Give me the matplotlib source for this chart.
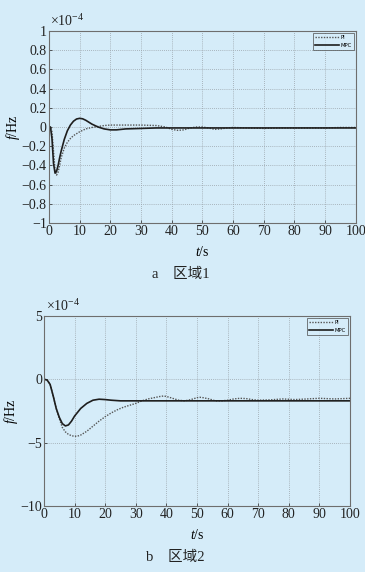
import matplotlib
matplotlib.use("Agg")
import matplotlib.pyplot as plt
from matplotlib.ticker import FuncFormatter

plt.rcParams["mathtext.fontset"] = "custom"
plt.rcParams["mathtext.rm"] = "Liberation Serif"
plt.rcParams["mathtext.it"] = "Liberation Serif:italic"
plt.rcParams["mathtext.bf"] = "Liberation Serif:bold"

# ---- data (units of 1e-4 Hz) ----
t_mpc1 = [0, 0.5, 1, 1.5, 2, 2.5, 3, 3.5, 4, 4.5, 5, 6, 7, 8, 9, 10, 11, 12, 13, 14, 15, 16, 18, 20, 22, 25, 30, 35, 40, 45, 50, 55, 60, 70, 80, 90, 100]
f_mpc1 = [0, 0, -0.12, -0.38, -0.48, -0.46, -0.4, -0.32, -0.25, -0.19, -0.13, -0.04, 0.02, 0.06, 0.083, 0.09, 0.085, 0.07, 0.05, 0.03, 0.015, 0.0, -0.02, -0.03, -0.03, -0.02, -0.015, -0.01, -0.01, -0.01, -0.01, -0.01, -0.01, -0.01, -0.01, -0.01, -0.01]

t_pi1 = [0, 0.5, 1, 1.5, 2, 2.5, 3, 3.5, 4, 5, 6, 7, 8, 10, 12, 14, 16, 18, 20, 25, 30, 35, 38, 40, 42, 44, 46, 48, 50, 52, 54, 56, 58, 60, 65, 70, 75, 80, 85, 90, 95, 100]
f_pi1 = [0, 0, -0.05, -0.25, -0.45, -0.5, -0.47, -0.4, -0.32, -0.22, -0.16, -0.12, -0.09, -0.05, -0.02, -0.005, 0.005, 0.015, 0.02, 0.02, 0.02, 0.015, 0.0, -0.025, -0.035, -0.03, -0.01, 0.0, 0.0, -0.01, -0.025, -0.02, -0.01, -0.005, -0.01, -0.015, -0.01, -0.01, -0.01, -0.01, -0.005, -0.005]

t_mpc2 = [0, 1, 2, 3, 4, 5, 6, 7, 8, 9, 10, 12, 14, 16, 18, 20, 22, 25, 30, 40, 50, 60, 70, 80, 90, 100]
f_mpc2 = [0, -0.05, -0.4, -1.3, -2.3, -3.0, -3.5, -3.68, -3.6, -3.3, -2.9, -2.3, -1.9, -1.65, -1.57, -1.6, -1.65, -1.7, -1.7, -1.7, -1.7, -1.7, -1.7, -1.7, -1.7, -1.7]

t_pi2 = [0, 1, 2, 3, 4, 5, 6, 7, 8, 9, 10, 11, 12, 14, 16, 18, 20, 22, 24, 26, 28, 30, 32, 34, 36, 38, 39, 40, 42, 44, 46, 48, 50, 51, 52, 54, 56, 58, 60, 62, 64, 66, 68, 70, 74, 78, 82, 86, 90, 95, 100]
f_pi2 = [0, -0.05, -0.4, -1.3, -2.3, -3.1, -3.8, -4.15, -4.35, -4.45, -4.5, -4.48, -4.4, -4.1, -3.7, -3.3, -2.95, -2.65, -2.4, -2.2, -2.05, -1.9, -1.7, -1.55, -1.45, -1.35, -1.32, -1.35, -1.5, -1.65, -1.7, -1.6, -1.45, -1.42, -1.45, -1.55, -1.7, -1.7, -1.65, -1.55, -1.5, -1.52, -1.6, -1.65, -1.62, -1.55, -1.6, -1.55, -1.5, -1.55, -1.5]

xticks = list(range(0, 101, 10))
yticks1 = [-1, -0.8, -0.6, -0.4, -0.2, 0, 0.2, 0.4, 0.6, 0.8, 1]
yticks2 = [-10, -5, 0, 5]
captions = ["a\u2003区域1", "b\u2003区域2"]

BG = "#d5ecf9"
serif = ["Liberation Serif", "Noto Sans CJK SC"]

def fmt(v, pos):
    s = ("%g" % v)
    return s.replace("-", "\u2212")

fig = plt.figure(figsize=(3.65, 5.72), dpi=100, facecolor=BG)

def setup(ax, yt, ylim, caption, cap_y):
    ax.set_facecolor(BG)
    ax.set_xlim(0, 100)
    ax.set_ylim(*ylim)
    ax.set_xticks(xticks)
    ax.set_yticks(yt)
    ax.yaxis.set_major_formatter(FuncFormatter(fmt))
    ax.grid(True, linestyle=(0, (1, 1.5)), color="#9aa3aa", linewidth=0.6)
    ax.tick_params(direction="in", length=2.5, width=0.5, labelsize=10, colors="#222222", pad=1.5)
    for lab in ax.get_xticklabels() + ax.get_yticklabels():
        lab.set_family(serif)
    for s in ax.spines.values():
        s.set_color("#6e6e6e")
        s.set_linewidth(0.8)
    ax.set_xlabel("$\\it{t}$/s", fontsize=10, family=serif, labelpad=5)
    ax.set_ylabel("$\\it{f}$/Hz", fontsize=10, family=serif, labelpad=0)
    ax.text(0.005, 1.008, "×10$^{-4}$", transform=ax.transAxes, fontsize=10, family=serif,
            va="bottom", ha="left", color="#222222")
    p = ax.get_position()
    fig.text(p.x0 + (p.x1 - p.x0) * 0.43, cap_y,
             caption, fontsize=10.5, family=serif, ha="center", va="center", color="#222222")
    leg = ax.legend(loc="upper right", fontsize=3.8, frameon=True, fancybox=False,
                    handlelength=4.5, borderpad=0.4, labelspacing=0.6, handletextpad=0.3,
                    borderaxespad=0.35)
    leg.get_frame().set_facecolor(BG)
    leg.get_frame().set_edgecolor("#444444")
    leg.get_frame().set_linewidth(0.6)

ax1 = fig.add_axes([0.134, 0.610, 0.841, 0.336])
ax1.plot(t_pi1, f_pi1, linestyle=(0, (1, 1)), color="#555555", linewidth=1.0, label="PI")
ax1.plot(t_mpc1, f_mpc1, linestyle="-", color="#1e1e1e", linewidth=1.2, label="MPC")
setup(ax1, yticks1, (-1, 1), captions[0], 1 - 274 / 572)

ax2 = fig.add_axes([0.1205, 0.1154, 0.8385, 0.3322])
ax2.plot(t_pi2, f_pi2, linestyle=(0, (1, 1)), color="#555555", linewidth=1.0, label="PI")
ax2.plot(t_mpc2, f_mpc2, linestyle="-", color="#1e1e1e", linewidth=1.2, label="MPC")
setup(ax2, yticks2, (-10, 5), captions[1], 1 - 557 / 572)

fig.savefig("out.png", dpi=100, facecolor=BG)
